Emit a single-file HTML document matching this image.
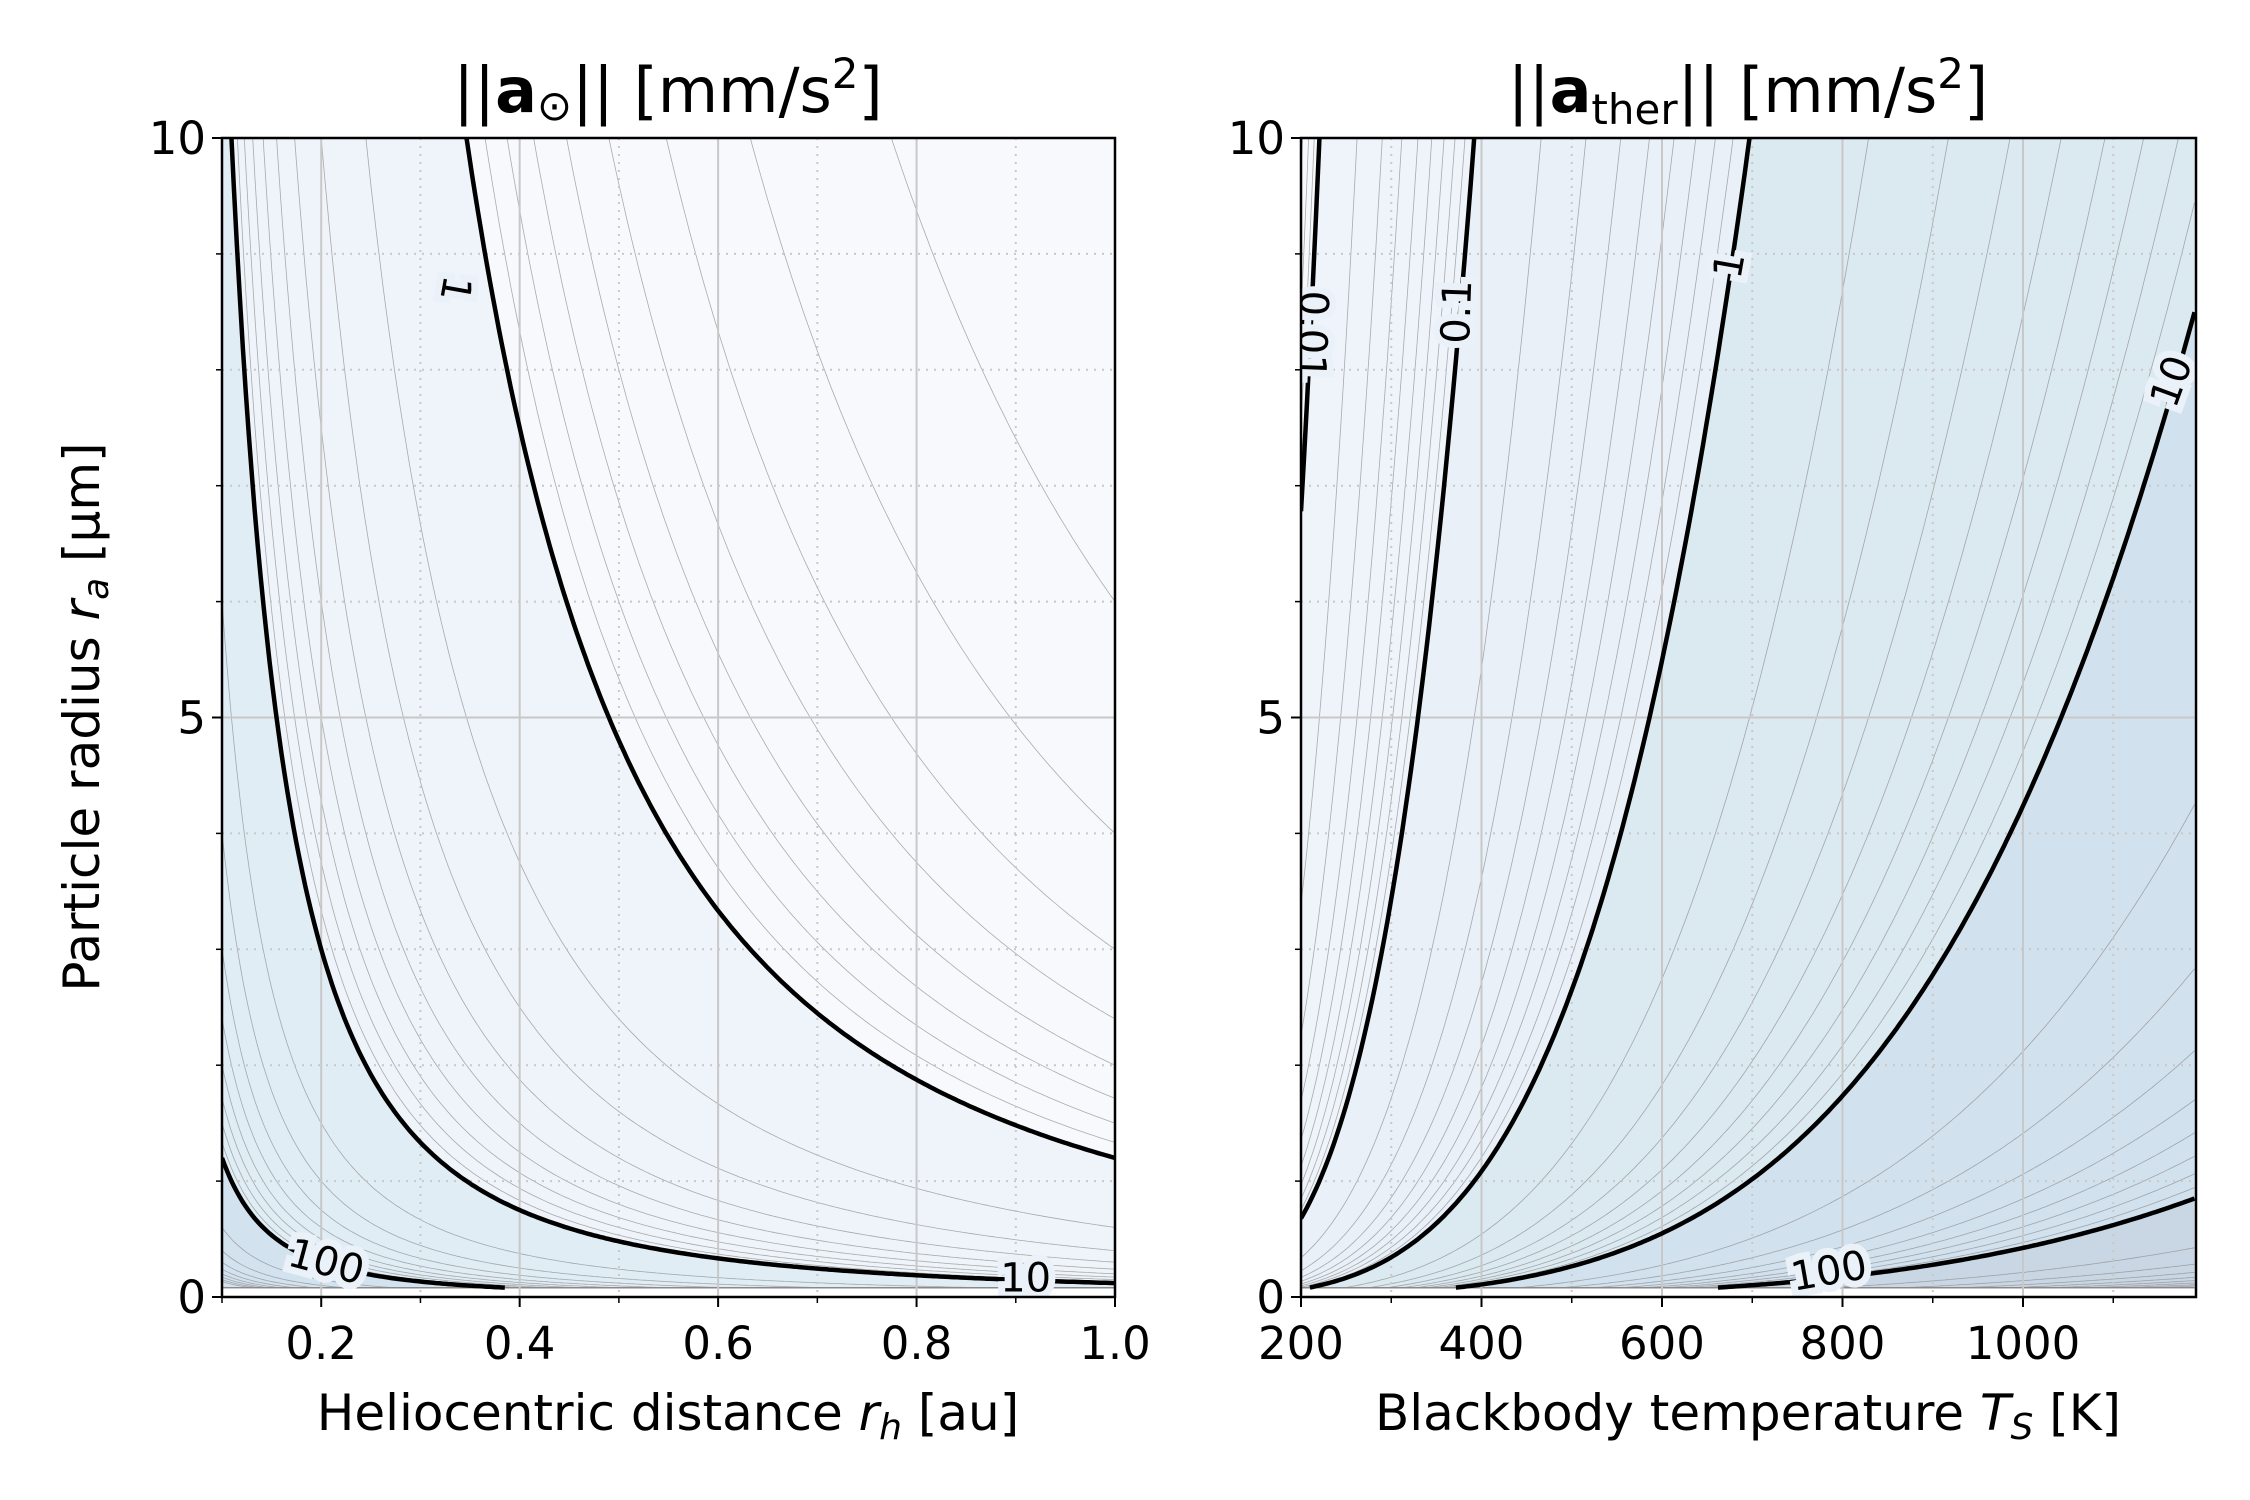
<!DOCTYPE html>
<html><head><meta charset="utf-8"><style>
html,body{margin:0;padding:0;background:#fff}
svg text{font-family:"DejaVu Sans","Liberation Sans",sans-serif}
</style></head><body>
<svg id="fig" xmlns="http://www.w3.org/2000/svg" width="2250" height="1500" viewBox="0 0 2250 1500" style="position:absolute;left:0;top:0">
<rect width="2250" height="1500" fill="#fff"/>
<defs>
<clipPath id="clipL"><rect x="222" y="138" width="893" height="1159"/></clipPath>
<clipPath id="clipR"><rect x="1301" y="138" width="895" height="1159"/></clipPath>
</defs>
<g id="left"></g>
<g id="right"></g>
</svg>
<script>
// ---- data ----
const majorLevels = [0.01, 0.1, 1, 10, 100];
const leftCoef = [1.2];            // a_sun = coef / (rh^2 * ra)
const rightRef = [697, 10];        // a_ther = 10*(T/697)^4 / ra
const leftBands = [1000, 100, 10, 1];
const leftBandColors = ['#d3e2ef', '#e0edf5', '#eef4f9', '#f7f9fc'];
const rightBands = [1000, 100, 10, 1, 0.1, 0.01];
const rightBandColors = ['#c9d7e4', '#d2e1ee', '#dbe9f1', '#e9f0f8', '#eff4fa', '#f6f8fb'];
const leftXTicks = [0.2, 0.4, 0.6, 0.8, 1.0];
const leftXTickLabels = ['0.2', '0.4', '0.6', '0.8', '1.0'];
const leftXMinor = [0.1, 0.3, 0.5, 0.7, 0.9];
const rightXTicks = [200, 400, 600, 800, 1000];
const rightXMinor = [300, 500, 700, 900, 1100];
const yTicks = [0, 5, 10];
const yMinor = [1, 2, 3, 4, 6, 7, 8, 9];
const leftLabels = [{v:1, x:0.335, y:8.7, r:100}, {v:10, x:0.91, y:0.16, r:0}, {v:100, x:0.205, y:0.3, r:15}];
const rightLabels = [{v:0.01, x:212, y:8.3, r:92}, {v:0.1, x:373, y:8.5, r:-88}, {v:1, x:675, y:8.9, r:-80}, {v:10, x:1165, y:7.9, r:-70}, {v:100, x:785, y:0.22, r:-10}];

const NS = 'http://www.w3.org/2000/svg';
function el(tag, attrs, parent, txt){const e=document.createElementNS(NS,tag);for(const k in attrs)e.setAttribute(k,attrs[k]);if(txt!==undefined)e.textContent=txt;parent.appendChild(e);return e;}
const Y0=1297, Y1=138;
const yS = v => Y0 + (Y1-Y0)*v/10;
const xL = v => 222 + (1115-222)*(v-0.1)/0.9;
const xR = v => 1301 + (2023-1301)*(v-200)/800;
const fL = (rh,v) => leftCoef[0]/(rh*rh*v);
const fR = (T,v) => rightRef[1]*Math.pow(T/rightRef[0],4)/v;
const clampRa = r => Math.max(-1, Math.min(20, r));

function curvePts(xs, f, v, N){const pts=[];for(let i=0;i<=N;i++){const x=xs[0]+(xs[1]-xs[0])*i/N;pts.push([x, clampRa(f(x,v))]);}return pts;}

function panel(g, clip, xs, xsc, f, bands, colors){
  const cg = el('g',{'clip-path':'url(#'+clip+')'},g);
  const base = el('rect',{x:xsc(xs[0]),y:Y1,width:xsc(xs[1])-xsc(xs[0]),height:Y0-Y1,fill:colors[0]},cg);
  
  
  for(let b=1;b<bands.length;b++){
    const pts = curvePts(xs,f,bands[b],300);
    let d = pts.map((p,i)=>(i?'L':'M')+xsc(p[0]).toFixed(1)+','+yS(p[1]).toFixed(1)).join('');
    d += 'L'+xsc(xs[1])+','+yS(20)+'L'+xsc(xs[0])+','+yS(20)+'Z';
    const p = el('path',{d:d,fill:colors[b]},cg);
    
    
  }
  el('rect',{x:xsc(xs[0]),y:yS(0.08),width:xsc(xs[1])-xsc(xs[0]),height:Y0-yS(0.08),fill:'#fff'},cg);
  for(let k=-3;k<=3;k++){for(let m=2;m<=9;m++){
    const v=m*Math.pow(10,k);
    const pts=curvePts(xs,f,v,300);
    const d=pts.map((p,i)=>(i?'L':'M')+xsc(p[0]).toFixed(1)+','+yS(Math.max(0.08,p[1])).toFixed(1)).join('');
    const l=el('path',{d:d,fill:'none',stroke:'#8a8a8a','stroke-width':0.8,'stroke-opacity':0.7},cg);
    
    
  }}
  return cg;
}
function gridAndAxes(g, xsc, xs, xt, xm){
  for(const t of xt){el('line',{x1:xsc(t),x2:xsc(t),y1:Y1,y2:Y0,stroke:'#c8c8c8','stroke-width':2},g);}
  for(const t of xm){el('line',{x1:xsc(t),x2:xsc(t),y1:Y1,y2:Y0,stroke:'#c8c8c8','stroke-width':2,'stroke-dasharray':'2,6'},g);}
  el('line',{x1:xsc(xs[0]),x2:xsc(xs[1]),y1:yS(5),y2:yS(5),stroke:'#c8c8c8','stroke-width':2},g);
  for(const t of yMinor){el('line',{x1:xsc(xs[0]),x2:xsc(xs[1]),y1:yS(t),y2:yS(t),stroke:'#c8c8c8','stroke-width':2,'stroke-dasharray':'2,6'},g);}
}
function majors(cg, xs, xsc, f, levels){
  for(const v of levels){
    const pts=curvePts(xs,f,v,300).filter(p=>p[1]>=0.08);
    if(!pts.length) continue;
    const d=pts.map((p,i)=>(i?'L':'M')+xsc(p[0]).toFixed(1)+','+yS(p[1]).toFixed(1)).join('');
    const l=el('path',{d:d,fill:'none',stroke:'#000','stroke-width':4.5},cg);
    
    
  }
}
function labelsDraw(g, xsc, labels){
  for(const L of labels){
    const x=xsc(L.x), y=yS(L.y);
    const t=el('text',{x:x,y:y,'font-size':40,'text-anchor':'middle','dominant-baseline':'central',transform:'rotate('+L.r+' '+x+' '+y+')',fill:'#000',stroke:'#eaf1f8','stroke-width':14,'paint-order':'stroke'},g,String(L.v));
    
    
  }
}
function axesFrame(g, x0, x1, xt, xtl, xm, xsc){
  el('rect',{x:x0,y:Y1,width:x1-x0,height:Y0-Y1,fill:'none',stroke:'#000','stroke-width':2.5},g);
  xt.forEach((t,i)=>{el('line',{x1:xsc(t),x2:xsc(t),y1:Y0,y2:Y0+10,stroke:'#000','stroke-width':2},g);
    const tx=el('text',{x:xsc(t),y:Y0+62,'font-size':45,'text-anchor':'middle'},g,xtl[i]);
    
    });
  xm.forEach(t=>el('line',{x1:xsc(t),x2:xsc(t),y1:Y0,y2:Y0+6,stroke:'#000','stroke-width':1.5},g));
  yTicks.forEach(t=>{el('line',{x1:x0,x2:x0-10,y1:yS(t),y2:yS(t),stroke:'#000','stroke-width':2},g);
    const tx=el('text',{x:x0-16,y:yS(t)+16,'font-size':45,'text-anchor':'end'},g,String(t));
    
    });
  yMinor.forEach(t=>el('line',{x1:x0,x2:x0-6,y1:yS(t),y2:yS(t),stroke:'#000','stroke-width':1.5},g));
}
const gl=document.getElementById('left'), gr=document.getElementById('right');
const cl=panel(gl,'clipL',[0.1,1.0],xL,fL,leftBands,leftBandColors);
gridAndAxes(cl,xL,[0.1,1.0],leftXTicks,leftXMinor);
majors(cl,[0.1,1.0],xL,fL,[1,10,100]);
labelsDraw(cl,xL,leftLabels);
axesFrame(gl,222,1115,leftXTicks,leftXTickLabels,leftXMinor,xL);
const cr=panel(gr,'clipR',[200,1190],xR,fR,rightBands,rightBandColors);
gridAndAxes(cr,xR,[200,1190],rightXTicks,rightXMinor);
majors(cr,[200,1190],xR,fR,[0.01,0.1,1,10,100]);
labelsDraw(cr,xR,rightLabels);
axesFrame(gr,1301,2196,rightXTicks,rightXTicks.map(String),rightXMinor,xR);
</script>
<svg style="position:absolute;left:0;top:0" width="2250" height="1500">
<text x="668" y="112" font-size="62" text-anchor="middle" font-family="DejaVu Sans, sans-serif">||<tspan font-weight="bold">a</tspan><tspan font-size="42" dy="8">⊙</tspan><tspan dy="-8">|| [mm/s</tspan><tspan font-size="42" dy="-24">2</tspan><tspan dy="24">]</tspan></text>
<text x="1748" y="112" font-size="62" text-anchor="middle" font-family="DejaVu Sans, sans-serif">||<tspan font-weight="bold">a</tspan><tspan font-size="42" dy="12">ther</tspan><tspan dy="-12">|| [mm/s</tspan><tspan font-size="42" dy="-24">2</tspan><tspan dy="24">]</tspan></text>
<text x="668" y="1430" font-size="50" text-anchor="middle" font-family="DejaVu Sans, sans-serif">Heliocentric distance <tspan font-style="italic">r</tspan><tspan font-style="italic" font-size="36" dy="9">h</tspan><tspan dy="-9"> [au]</tspan></text>
<text x="1748" y="1430" font-size="50" text-anchor="middle" font-family="DejaVu Sans, sans-serif">Blackbody temperature <tspan font-style="italic">T</tspan><tspan font-style="italic" font-size="36" dy="9">S</tspan><tspan dy="-9"> [K]</tspan></text>
<text transform="translate(99 717) rotate(-90)" font-size="50" text-anchor="middle" font-family="DejaVu Sans, sans-serif">Particle radius <tspan font-style="italic">r</tspan><tspan font-style="italic" font-size="36" dy="9">a</tspan><tspan dy="-9"> [µm]</tspan></text>
</svg>
</body></html>
